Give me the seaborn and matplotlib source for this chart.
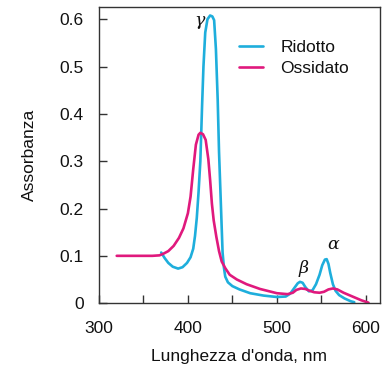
import pandas as pd
import matplotlib
matplotlib.use("Agg")
import matplotlib.pyplot as plt
from matplotlib.ticker import MultipleLocator
import seaborn as sns

# curve values
rid_nm = [370, 374, 378, 383, 389, 394, 399, 403, 406, 408, 410, 412, 414, 416,
          417.5, 419.5, 422, 425, 427.5, 429.5, 431.5, 433.5, 435, 436.5, 438, 439,
          440.5, 442, 445, 450, 458, 470, 485, 500, 510, 515, 520, 523.5, 526, 529,
          532, 536, 540, 544, 548, 551, 554, 556, 558, 560, 563, 566, 570, 576, 583, 587]
rid_abs = [0.107, 0.095, 0.085, 0.077, 0.073, 0.076, 0.085, 0.097, 0.115, 0.142, 0.180,
           0.235, 0.300, 0.420, 0.500, 0.572, 0.600, 0.608, 0.606, 0.598, 0.537, 0.430,
           0.320, 0.240, 0.160, 0.107, 0.075, 0.056, 0.044, 0.036, 0.029, 0.021, 0.016,
           0.013, 0.014, 0.020, 0.033, 0.042, 0.045, 0.043, 0.034, 0.025, 0.027, 0.040,
           0.060, 0.080, 0.092, 0.093, 0.083, 0.064, 0.040, 0.026, 0.017, 0.010, 0.004, 0.002]

oss_nm = [320, 340, 360, 368, 372, 378, 384, 390, 395, 400, 403, 406, 409, 412, 414,
          417, 420, 423, 425, 427, 429, 432, 435, 438, 442, 447, 455, 466, 481, 500,
          512, 518, 522, 527, 532, 537, 542, 548, 553, 558, 563, 568, 575, 585, 595, 603]
oss_abs = [0.100, 0.100, 0.100, 0.101, 0.104, 0.110, 0.121, 0.138, 0.158, 0.190, 0.225,
           0.283, 0.335, 0.356, 0.360, 0.357, 0.345, 0.304, 0.260, 0.210, 0.175, 0.140,
           0.110, 0.088, 0.074, 0.060, 0.050, 0.040, 0.030, 0.021, 0.019, 0.022, 0.028,
           0.031, 0.030, 0.026, 0.023, 0.022, 0.024, 0.029, 0.031, 0.029, 0.022, 0.014,
           0.006, 0.001]

df_rid = pd.DataFrame({"nm": rid_nm, "A": rid_abs})
df_oss = pd.DataFrame({"nm": oss_nm, "A": oss_abs})

sns.set_style("ticks")
plt.rcParams["font.family"] = ["Liberation Sans", "DejaVu Sans"]
plt.rcParams["text.color"] = "#111111"
plt.rcParams["axes.labelcolor"] = "#111111"
plt.rcParams["xtick.labelcolor"] = "#111111"
plt.rcParams["ytick.labelcolor"] = "#111111"

fig = plt.figure(figsize=(3.91, 3.67), dpi=100)
ax = fig.add_axes([0.253, 0.174, 0.719, 0.807])

sns.lineplot(data=df_rid, x="nm", y="A", ax=ax, color="#1eaedc", lw=1.9,
             sort=False, estimator=None, label="Ridotto")
sns.lineplot(data=df_oss, x="nm", y="A", ax=ax, color="#e0197d", lw=1.9,
             sort=False, estimator=None, label="Ossidato")

ax.set_xlim(300, 616)
ax.set_ylim(0, 0.626)
ax.xaxis.set_major_locator(MultipleLocator(100))
ax.xaxis.set_minor_locator(MultipleLocator(50))
ax.set_yticks([0, 0.1, 0.2, 0.3, 0.4, 0.5, 0.6])
ax.set_yticklabels(["0", "0.1", "0.2", "0.3", "0.4", "0.5", "0.6"])
ax.tick_params(axis="both", which="both", direction="in", length=6, width=1,
               color="#333333", labelsize=12.5)
ax.tick_params(axis="y", pad=11)
ax.tick_params(axis="x", which="both", pad=13)
for s in ax.spines.values():
    s.set_visible(True)
    s.set_color("#333333")
    s.set_linewidth(1)

ax.set_xlabel("Lunghezza d'onda, nm", fontsize=12.5, labelpad=9)
ax.set_ylabel("Assorbanza", fontsize=12.5, labelpad=16)

greek = dict(family="DejaVu Serif", style="italic", fontsize=12.5, ha="center", va="center")
ax.text(413.6, 0.598, "γ", **greek)
ax.text(529.5, 0.074, "β", **greek)
ax.text(563, 0.123, "α", **greek)

ax.legend(frameon=False, loc="upper left", bbox_to_anchor=(0.50, 0.89),
          fontsize=12.5, handlelength=1.35, handletextpad=1.0, labelspacing=0.35,
          borderpad=0, borderaxespad=0)

fig.savefig("out.png", dpi=100)
